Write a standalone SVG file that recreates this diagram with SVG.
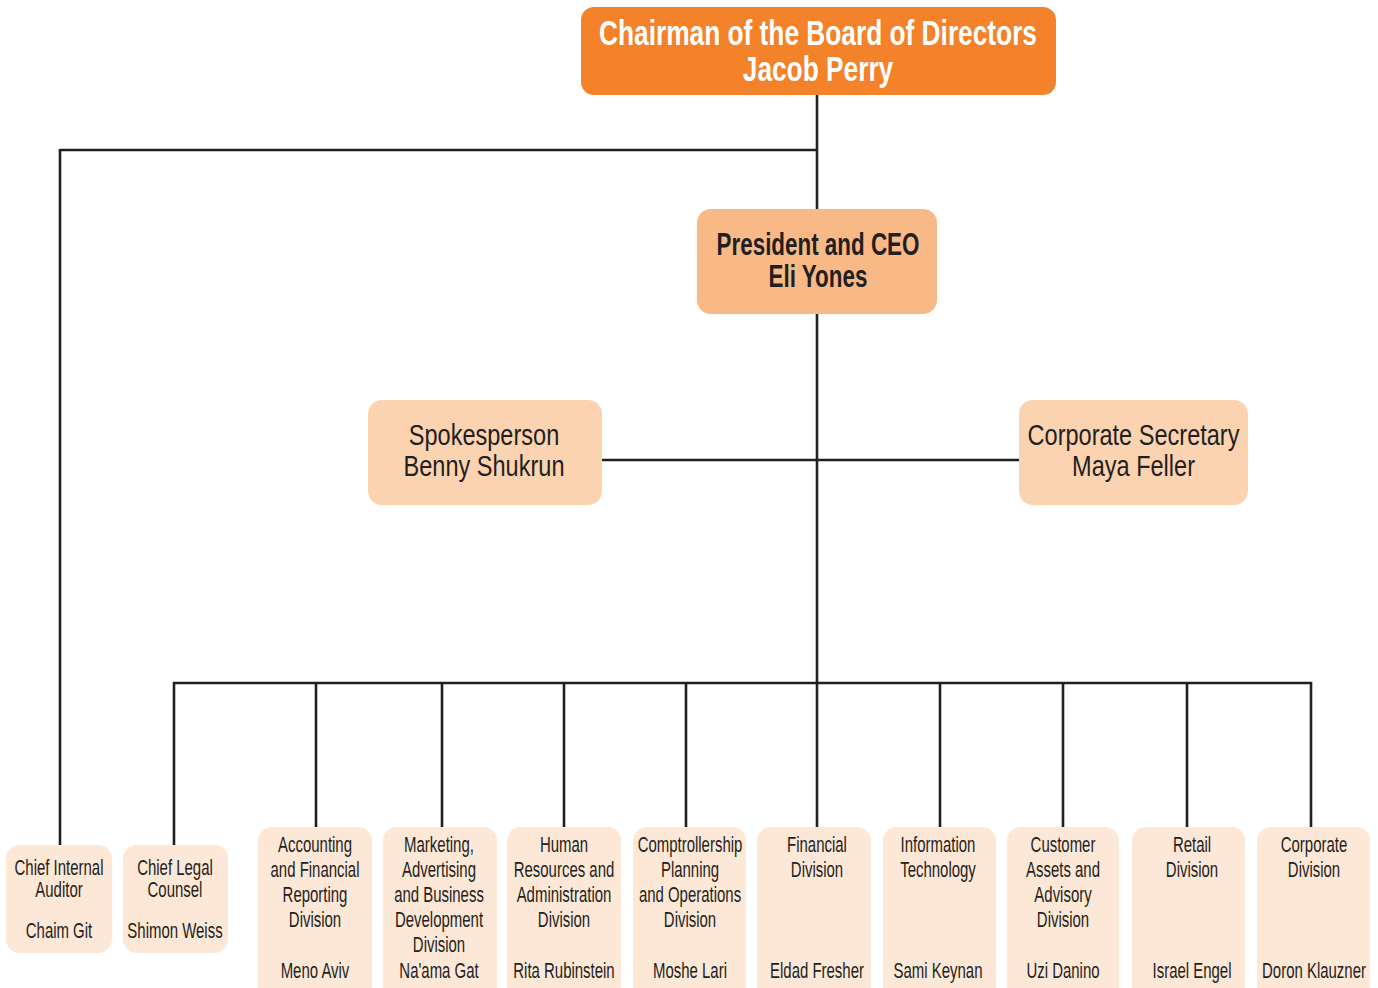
<svg xmlns="http://www.w3.org/2000/svg" width="1378" height="988" viewBox="0 0 1378 988">
<style>
text{font-family:"Liberation Sans",Arial,sans-serif;text-anchor:middle;fill:#231f20}
.top{fill:#f3822a}
.ceo{fill:#f9b987}
.mid{fill:#fcd3b1}
.box{fill:#fde7d6}
.t1{font-size:35px;font-weight:bold;fill:#ffffff}
.t2{font-size:31px;font-weight:bold}
.t3{font-size:30px}
.t4{font-size:22px}
.conn line{stroke:#231f20;stroke-width:2.6}
</style>
<rect width="1378" height="988" fill="#ffffff"/>
<g class="conn">
<line x1="817" y1="95" x2="817" y2="684"/>
<line x1="60" y1="150" x2="818" y2="150"/>
<line x1="60" y1="149" x2="60" y2="846"/>
<line x1="602" y1="460" x2="1019" y2="460"/>
<line x1="173" y1="683" x2="1312" y2="683"/>
<line x1="174" y1="682" x2="174" y2="846"/>
<line x1="316" y1="682" x2="316" y2="828"/>
<line x1="442" y1="682" x2="442" y2="828"/>
<line x1="564" y1="682" x2="564" y2="828"/>
<line x1="686" y1="682" x2="686" y2="828"/>
<line x1="817" y1="682" x2="817" y2="828"/>
<line x1="940" y1="682" x2="940" y2="828"/>
<line x1="1063" y1="682" x2="1063" y2="828"/>
<line x1="1187" y1="682" x2="1187" y2="828"/>
<line x1="1311" y1="682" x2="1311" y2="828"/>
</g>
<g id="chairman">
<rect class="top" x="581" y="7" width="475" height="88" rx="13"/>
<g transform="translate(818,0) scale(0.751,1)"><text class="t1" x="0" y="45">Chairman of the Board of Directors</text><text class="t1" x="0" y="81">Jacob Perry</text></g>
</g>
<g id="president">
<rect class="ceo" x="697" y="209" width="240" height="105" rx="14"/>
<g transform="translate(818,0) scale(0.723,1)"><text class="t2" x="0" y="255">President and CEO</text><text class="t2" x="0" y="287">Eli Yones</text></g>
</g>
<g id="spokesperson">
<rect class="mid" x="368" y="400" width="234" height="105" rx="14"/>
<g transform="translate(484,0) scale(0.785,1)"><text class="t3" x="0" y="445">Spokesperson</text><text class="t3" x="0" y="476">Benny Shukrun</text></g>
</g>
<g id="secretary">
<rect class="mid" x="1019" y="400" width="229" height="105" rx="14"/>
<g transform="translate(1133.5,0) scale(0.785,1)"><text class="t3" x="0" y="445">Corporate Secretary</text><text class="t3" x="0" y="476">Maya Feller</text></g>
</g>
<g id="auditor">
<rect class="box" x="6" y="845" width="106" height="108" rx="14"/>
<g transform="translate(59,0) scale(0.68,1)"><text class="t4" x="0" y="875">Chief Internal</text><text class="t4" x="0" y="897">Auditor</text><text class="t4" x="0" y="938">Chaim Git</text></g>
</g>
<g id="legal">
<rect class="box" x="123" y="845" width="105" height="108" rx="14"/>
<g transform="translate(175,0) scale(0.68,1)"><text class="t4" x="0" y="875">Chief Legal</text><text class="t4" x="0" y="897">Counsel</text><text class="t4" x="0" y="938">Shimon Weiss</text></g>
</g>
<g id="accounting">
<rect class="box" x="258" y="827" width="114" height="175" rx="14"/>
<g transform="translate(315,0) scale(0.68,1)"><text class="t4" x="0" y="852">Accounting</text><text class="t4" x="0" y="877">and Financial</text><text class="t4" x="0" y="902">Reporting</text><text class="t4" x="0" y="927">Division</text><text class="t4" x="0" y="978">Meno Aviv</text></g>
</g>
<g id="marketing">
<rect class="box" x="383" y="827" width="114" height="175" rx="14"/>
<g transform="translate(439,0) scale(0.68,1)"><text class="t4" x="0" y="852">Marketing,</text><text class="t4" x="0" y="877">Advertising</text><text class="t4" x="0" y="902">and Business</text><text class="t4" x="0" y="927">Development</text><text class="t4" x="0" y="952">Division</text><text class="t4" x="0" y="978">Na'ama Gat</text></g>
</g>
<g id="hr">
<rect class="box" x="507" y="827" width="114" height="175" rx="14"/>
<g transform="translate(564,0) scale(0.68,1)"><text class="t4" x="0" y="852">Human</text><text class="t4" x="0" y="877">Resources and</text><text class="t4" x="0" y="902">Administration</text><text class="t4" x="0" y="927">Division</text><text class="t4" x="0" y="978">Rita Rubinstein</text></g>
</g>
<g id="comptrollership">
<rect class="box" x="633" y="827" width="113" height="175" rx="14"/>
<g transform="translate(690,0) scale(0.68,1)"><text class="t4" x="0" y="852">Comptrollership</text><text class="t4" x="0" y="877">Planning</text><text class="t4" x="0" y="902">and Operations</text><text class="t4" x="0" y="927">Division</text><text class="t4" x="0" y="978">Moshe Lari</text></g>
</g>
<g id="financial">
<rect class="box" x="757" y="827" width="114" height="175" rx="14"/>
<g transform="translate(817,0) scale(0.68,1)"><text class="t4" x="0" y="852">Financial</text><text class="t4" x="0" y="877">Division</text><text class="t4" x="0" y="978">Eldad Fresher</text></g>
</g>
<g id="it">
<rect class="box" x="883" y="827" width="113" height="175" rx="14"/>
<g transform="translate(938,0) scale(0.68,1)"><text class="t4" x="0" y="852">Information</text><text class="t4" x="0" y="877">Technology</text><text class="t4" x="0" y="978">Sami Keynan</text></g>
</g>
<g id="customer">
<rect class="box" x="1007" y="827" width="112" height="175" rx="14"/>
<g transform="translate(1063,0) scale(0.68,1)"><text class="t4" x="0" y="852">Customer</text><text class="t4" x="0" y="877">Assets and</text><text class="t4" x="0" y="902">Advisory</text><text class="t4" x="0" y="927">Division</text><text class="t4" x="0" y="978">Uzi Danino</text></g>
</g>
<g id="retail">
<rect class="box" x="1132" y="827" width="113" height="175" rx="14"/>
<g transform="translate(1192,0) scale(0.68,1)"><text class="t4" x="0" y="852">Retail</text><text class="t4" x="0" y="877">Division</text><text class="t4" x="0" y="978">Israel Engel</text></g>
</g>
<g id="corporate">
<rect class="box" x="1257" y="827" width="113" height="175" rx="14"/>
<g transform="translate(1314,0) scale(0.68,1)"><text class="t4" x="0" y="852">Corporate</text><text class="t4" x="0" y="877">Division</text><text class="t4" x="0" y="978">Doron Klauzner</text></g>
</g>
</svg>
